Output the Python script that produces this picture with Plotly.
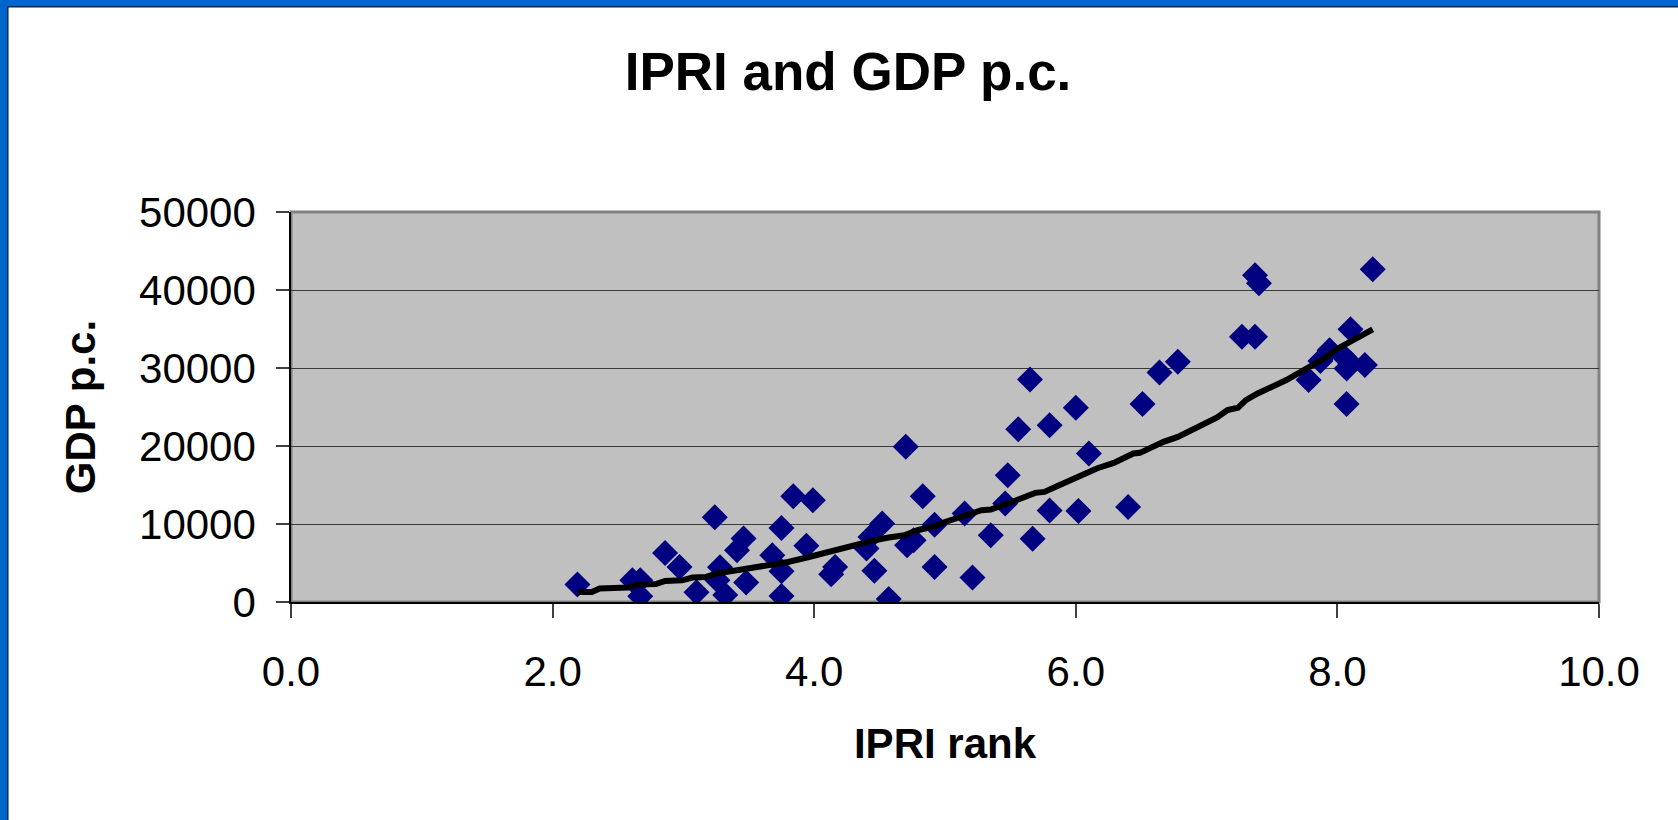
import plotly.graph_objects as go

# ---------------- data ----------------
ipri_rank = [2.19, 2.61, 2.67, 2.67, 2.86, 2.97, 3.10, 3.24, 3.28, 3.26,
             3.32, 3.46, 3.41, 3.48, 3.68, 3.75, 3.75, 3.75, 3.84, 3.94,
             3.99, 4.16, 4.13, 4.52, 4.43, 4.40, 4.46, 4.57, 4.70, 4.83,
             4.76, 4.71, 4.92, 4.92, 5.21, 5.15, 5.35, 5.48, 5.46, 5.67,
             5.56, 5.80, 5.65, 5.80, 6.00, 6.10, 6.02, 6.40, 6.51, 6.64,
             6.78, 7.27, 7.37, 7.37, 7.40, 7.78, 7.87, 7.94, 8.05, 8.07,
             8.10, 8.21, 8.07, 8.10, 8.27]
gdp_pc = [2250, 2780, 2780, 750, 6290, 4490, 1240, 10870, 4450, 2780,
          900, 8130, 6630, 2490, 5990, 9490, 3950, 770, 13560, 7200,
          13050, 4490, 3550, 10060, 8340, 6850, 4020, 400, 19890, 13560,
          7920, 7270, 9900, 4490, 3150, 11340, 8560, 16260, 12630, 8100,
          22160, 22670, 28540, 11720, 24890, 19040, 11680, 12190, 25370, 29430,
          30790, 34000, 34000, 41900, 40850, 28450, 30900, 32290, 31430, 29950,
          30590, 30370, 25400, 34970, 42670]

trend_x = [2.19, 2.30, 2.36, 2.58, 2.65, 2.79, 2.86, 2.99, 3.07, 3.17,
           3.25, 3.40, 3.47, 3.57, 3.68, 3.80, 3.96, 4.06, 4.19, 4.31,
           4.44, 4.57, 4.69, 4.79, 4.92, 5.00, 5.12, 5.28, 5.35, 5.46,
           5.56, 5.69, 5.76, 5.86, 5.99, 6.16, 6.29, 6.44, 6.49, 6.67,
           6.78, 6.93, 7.08, 7.16, 7.24, 7.30, 7.39, 7.61, 7.74, 7.92,
           7.99, 8.12, 8.27]
trend_y = [1280, 1280, 1720, 1850, 2230, 2300, 2700, 2780, 3130, 3200,
           3640, 4070, 4150, 4580, 4930, 5130, 5770, 6210, 6850, 7270,
           7830, 8260, 8560, 9200, 9710, 10260, 10910, 11770, 11850, 12630,
           13140, 13990, 14110, 14870, 15830, 17120, 17830, 19040, 19120, 20530,
           21170, 22380, 23660, 24600, 24900, 25880, 26740, 28450, 29730, 31430,
           32380, 33580, 34950]

x_ticks = [0, 2, 4, 6, 8, 10]
y_ticks = [0, 10000, 20000, 30000, 40000, 50000]

# ---------------- layout constants ----------------
W, H = 1678, 820
L, R, T, B = 291, 79, 212, 218
PW, PH = W - L - R, H - T - B
FONT = "Liberation Sans, Arial, sans-serif"


def px(x):
    return (x - L) / PW


def py(y):
    return (H - B - y) / PH


fig = go.Figure()

fig.add_trace(go.Scatter(
    x=ipri_rank, y=gdp_pc, mode="markers",
    marker=dict(symbol="diamond", size=20, color="#000080", line=dict(width=0)),
    showlegend=False, hoverinfo="x+y"))

fig.add_trace(go.Scatter(
    x=trend_x, y=trend_y, mode="lines",
    line=dict(color="#000000", width=6),
    showlegend=False, hoverinfo="skip"))

shapes = [
    # plot area frame
    dict(type="rect", xref="paper", yref="paper", x0=0, x1=1, y0=0, y1=1,
         line=dict(color="#808080", width=3), fillcolor="rgba(0,0,0,0)", layer="below"),
    # blue slide frame (top and left)
    dict(type="rect", xref="paper", yref="paper", x0=px(0), x1=px(W), y0=py(0), y1=py(6.5),
         line=dict(width=0), fillcolor="#0066CC", layer="above"),
    dict(type="rect", xref="paper", yref="paper", x0=px(0), x1=px(7.5), y0=py(0), y1=py(H),
         line=dict(width=0), fillcolor="#0066CC", layer="above"),
    dict(type="line", xref="paper", yref="paper", x0=px(7.5), x1=px(W), y0=py(6.8), y1=py(6.8),
         line=dict(color="#00264d", width=1.5), layer="above"),
    dict(type="line", xref="paper", yref="paper", x0=px(7.8), x1=px(7.8), y0=py(6.5), y1=py(H),
         line=dict(color="#00264d", width=1.5), layer="above"),
]

fig.update_layout(
    width=W, height=H,
    margin=dict(l=L, r=R, t=T, b=B, pad=0),
    paper_bgcolor="#FFFFFF",
    plot_bgcolor="#C0C0C0",
    font=dict(family=FONT, size=42, color="#000000"),
    title=dict(text="<b>IPRI and GDP p.c.</b>", x=848 / W, xref="container", xanchor="center",
               y=1 - 71 / H, yref="container", yanchor="middle",
               font=dict(family=FONT, size=53, color="#000000")),
    shapes=shapes,
    showlegend=False,
)

fig.update_xaxes(
    range=[0, 10], tickvals=x_ticks, tickformat=".1f",
    ticks="outside", ticklen=14, tickwidth=1.5, tickcolor="#404040",
    showline=True, linecolor="#000000", linewidth=1.5,
    showgrid=False, zeroline=False,
    tickfont=dict(family=FONT, size=42), ticklabelstandoff=18,
    title=dict(text="<b>IPRI rank</b>", font=dict(family=FONT, size=42), standoff=34),
)

fig.update_yaxes(
    range=[0, 50000], tickvals=y_ticks, tickformat="d",
    ticks="outside", ticklen=13, tickwidth=1.5, tickcolor="#404040",
    showline=True, linecolor="#000000", linewidth=1.5,
    showgrid=True, gridcolor="#3a3a3a", gridwidth=1.2, zeroline=False,
    tickfont=dict(family=FONT, size=42), ticklabelstandoff=12,
    title=dict(text="<b>GDP p.c.</b>", font=dict(family=FONT, size=42), standoff=30),
)

fig.write_html(
    "out.html",
    config={"displayModeBar": False},
    post_script="document.body.style.margin='0';document.body.style.overflow='hidden';",
)
